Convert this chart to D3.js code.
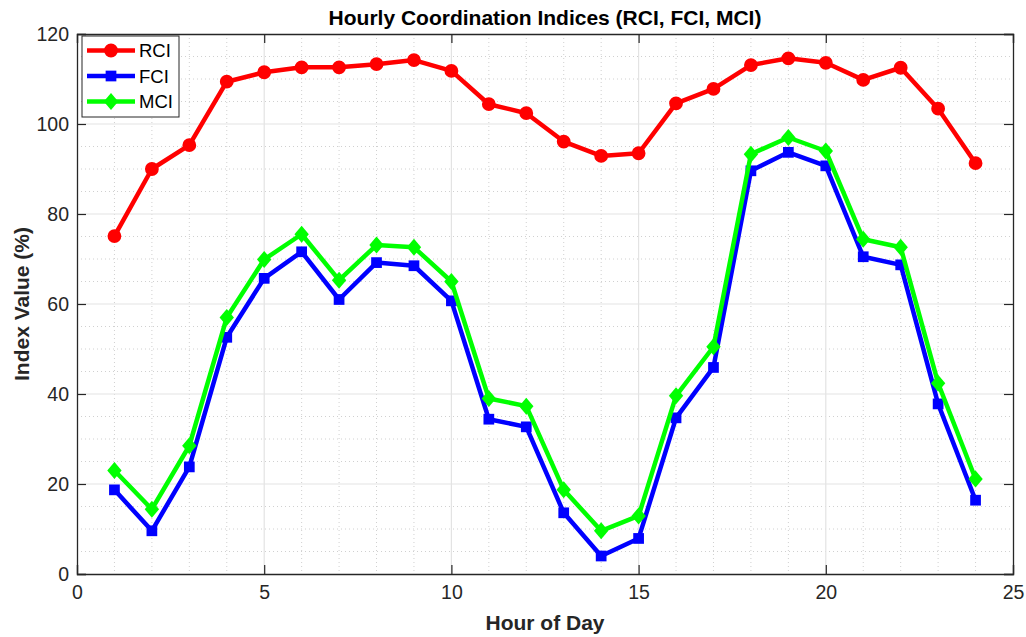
<!DOCTYPE html>
<html><head><meta charset="utf-8">
<script src="https://cdn.jsdelivr.net/npm/d3@7"></script>
<style>body{margin:0;background:#fff;}svg{display:block;font-family:"Liberation Sans",Arial,sans-serif;}</style>
</head><body><svg id="c" width="1026" height="637"></svg>
<script>
const hours = d3.range(1, 25);
const rci = [75.1, 90.0, 95.3, 109.4, 111.5, 112.6, 112.6, 113.3, 114.2, 111.8, 104.4, 102.4, 96.1, 92.9, 93.5, 104.6, 107.8, 113.1, 114.6, 113.6, 109.8, 112.5, 103.4, 91.3];
const fci = [18.7, 9.6, 23.8, 52.6, 65.7, 71.6, 61.0, 69.2, 68.5, 60.7, 34.4, 32.7, 13.6, 4.0, 7.9, 34.7, 45.9, 89.6, 93.7, 90.7, 70.5, 68.7, 37.8, 16.4];
const mci = [23.0, 14.4, 28.5, 57.0, 69.9, 75.5, 65.3, 73.1, 72.6, 65.0, 39.0, 37.3, 18.7, 9.6, 12.9, 39.6, 50.5, 93.3, 97.0, 94.0, 74.4, 72.6, 42.4, 21.1];
const seriesNames = ["RCI", "FCI", "MCI"];
const seriesColors = ["#ff0000", "#0000ff", "#00ff00"];
const seriesMarkers = ["circle", "square", "diamond"];
const xTicks = [0, 5, 10, 15, 20, 25];
const yTicks = [0, 20, 40, 60, 80, 100, 120];
const titleText = "Hourly Coordination Indices (RCI, FCI, MCI)";
const xLabel = "Hour of Day";
const yLabel = "Index Value (%)";

const L = 77, R = 1013, T = 34, B = 574;
const svg = d3.select("#c");
const x = d3.scaleLinear().domain([0, 25]).range([L, R]);
const y = d3.scaleLinear().domain([0, 120]).range([B, T]);

// minor grid
const g = svg.append("g");
g.selectAll(".mx").data(d3.range(1, 25).filter(v => v % 5 !== 0)).enter().append("line")
  .attr("x1", d => x(d)).attr("x2", d => x(d)).attr("y1", T).attr("y2", B)
  .attr("stroke", "#d0d0d0").attr("stroke-width", 1).attr("stroke-dasharray", "1,3");
g.selectAll(".my").data(d3.range(5, 120, 5).filter(v => v % 20 !== 0)).enter().append("line")
  .attr("y1", d => y(d)).attr("y2", d => y(d)).attr("x1", L).attr("x2", R)
  .attr("stroke", "#d0d0d0").attr("stroke-width", 1).attr("stroke-dasharray", "1,3");
// major grid
g.selectAll(".gx").data(xTicks.slice(1, -1)).enter().append("line")
  .attr("x1", d => x(d)).attr("x2", d => x(d)).attr("y1", T).attr("y2", B)
  .attr("stroke", "#e3e3e3").attr("stroke-width", 1.2);
g.selectAll(".gy").data(yTicks.slice(1, -1)).enter().append("line")
  .attr("y1", d => y(d)).attr("y2", d => y(d)).attr("x1", L).attr("x2", R)
  .attr("stroke", "#e3e3e3").attr("stroke-width", 1.2);

// axes
const ax = svg.append("g").attr("transform", `translate(0,${B})`)
  .call(d3.axisBottom(x).tickValues(xTicks).tickSize(-9).tickPadding(11).tickFormat(d3.format("d")));
const ay = svg.append("g").attr("transform", `translate(${L},0)`)
  .call(d3.axisLeft(y).tickValues(yTicks).tickSize(-9).tickPadding(8).tickFormat(d3.format("d")));
const axT = svg.append("g").attr("transform", `translate(0,${T})`)
  .call(d3.axisTop(x).tickValues(xTicks).tickSize(-9).tickFormat(""));
const ayR = svg.append("g").attr("transform", `translate(${R},0)`)
  .call(d3.axisRight(y).tickValues(yTicks).tickSize(-9).tickFormat(""));
[ax, ay, axT, ayR].forEach(a => {
  a.select(".domain").attr("stroke", "#262626").attr("stroke-width", 1.3);
  a.selectAll(".tick line").attr("stroke", "#262626").attr("stroke-width", 1.2);
  a.selectAll("text").attr("fill", "#262626").attr("font-size", 19.5).attr("font-family", "Liberation Sans, Arial, sans-serif");
});

// lines
const allData = [rci, fci, mci];
const line = d3.line().x((d, i) => x(hours[i])).y(d => y(d));
function markerPath(m) {
  if (m === "circle") return d3.symbol().type(d3.symbolCircle).size(150)();
  if (m === "square") return d3.symbol().type(d3.symbolSquare).size(115)();
  return "M0,-8.5L7.2,0L0,8.5L-7.2,0Z";
}
function drawMarker(sel, m, c) {
  return sel.append("path").attr("d", markerPath(m)).attr("fill", c);
}
const plot = svg.append("g");
allData.forEach((data, k) => {
  plot.append("path").datum(data).attr("d", line).attr("fill", "none")
    .attr("stroke", seriesColors[k]).attr("stroke-width", 4.5).attr("stroke-linejoin", "round");
  data.forEach((v, i) => {
    const mg = plot.append("g").attr("transform", `translate(${x(hours[i])},${y(v)})`);
    drawMarker(mg, seriesMarkers[k], seriesColors[k]);
  });
});

// legend
const lg = svg.append("g");
lg.append("rect").attr("x", 82).attr("y", 36).attr("width", 97).attr("height", 81)
  .attr("fill", "#fff").attr("stroke", "#262626").attr("stroke-width", 1);
seriesNames.forEach((n, k) => {
  const yy = 50.5 + k * 25.5;
  lg.append("line").attr("x1", 87).attr("x2", 135).attr("y1", yy).attr("y2", yy)
    .attr("stroke", seriesColors[k]).attr("stroke-width", 4.5);
  const mg = lg.append("g").attr("transform", `translate(111,${yy})`);
  drawMarker(mg, seriesMarkers[k], seriesColors[k]);
  lg.append("text").attr("x", 139).attr("y", yy + 6.5).attr("font-size", 18.5).attr("fill", "#000").text(n);
});

// titles
svg.append("text").attr("x", 545).attr("y", 25).attr("text-anchor", "middle")
  .attr("font-weight", "bold").attr("font-size", 21).attr("fill", "#000").text(titleText);
svg.append("text").attr("x", 545).attr("y", 630).attr("text-anchor", "middle")
  .attr("font-weight", "bold").attr("font-size", 21).attr("fill", "#262626").text(xLabel);
svg.append("text").attr("transform", `translate(29,${(T + B) / 2}) rotate(-90)`).attr("text-anchor", "middle")
  .attr("font-weight", "bold").attr("font-size", 21).attr("fill", "#262626").text(yLabel);
</script></body></html>
